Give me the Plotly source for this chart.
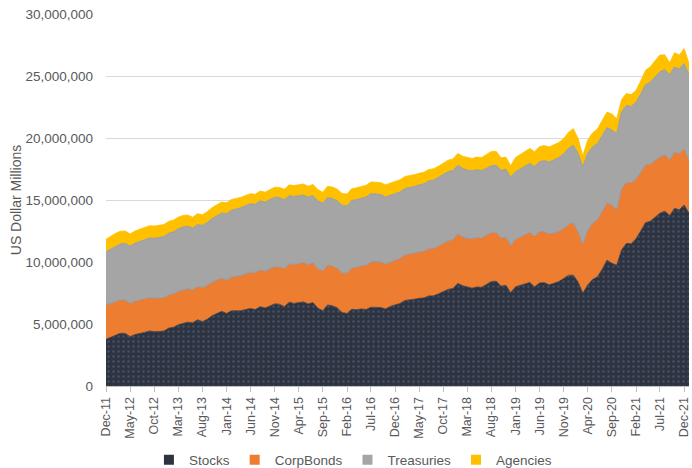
import pandas as pd
import plotly.graph_objects as go

SCALE = 1_000_000  # arrays below are in millions of "US Dollar Millions"

START_MONTH = "2011-12-01"
N_MONTHS = 122  # Dec-11 .. Jan-22

TICK_LABELS = ["Dec-11", "May-12", "Oct-12", "Mar-13", "Aug-13", "Jan-14", "Jun-14",
               "Nov-14", "Apr-15", "Sep-15", "Feb-16", "Jul-16", "Dec-16", "May-17",
               "Oct-17", "Mar-18", "Aug-18", "Jan-19", "Jun-19", "Nov-19", "Apr-20",
               "Sep-20", "Feb-21", "Jul-21", "Dec-21"]

stocks = [
    3.77, 3.95, 4.13, 4.25, 4.24, 3.98, 4.15, 4.22, 4.32, 4.44, 4.38, 4.39,
    4.43, 4.67, 4.74, 4.93, 5.03, 5.15, 5.09, 5.34, 5.19, 5.38, 5.66, 5.85,
    6.02, 5.85, 6.06, 6.07, 6.07, 6.16, 6.25, 6.16, 6.39, 6.29, 6.46, 6.62,
    6.59, 6.40, 6.76, 6.66, 6.72, 6.78, 6.62, 6.73, 6.27, 6.07, 6.53, 6.47,
    6.30, 5.92, 5.85, 6.18, 6.15, 6.21, 6.17, 6.35, 6.34, 6.33, 6.21, 6.42,
    6.54, 6.65, 6.90, 6.92, 6.99, 7.07, 7.10, 7.26, 7.27, 7.43, 7.60, 7.79,
    7.86, 8.27, 8.09, 8.00, 7.89, 7.98, 7.96, 8.19, 8.42, 8.45, 8.05, 8.12,
    7.52, 8.00, 8.13, 8.19, 8.35, 8.00, 8.30, 8.34, 8.16, 8.28, 8.42, 8.67,
    8.92, 8.94, 8.36, 7.47, 8.15, 8.58, 8.80, 9.39, 10.15, 9.89, 9.74, 10.97,
    11.49, 11.48, 11.89, 12.48, 13.17, 13.28, 13.62, 13.93, 14.10, 13.75, 14.32, 14.22,
    14.60, 13.93,
]

corp_bonds = [
    2.76, 2.74, 2.72, 2.70, 2.70, 2.69, 2.70, 2.71, 2.70, 2.70, 2.69, 2.70,
    2.70, 2.69, 2.70, 2.70, 2.72, 2.70, 2.68, 2.70, 2.76, 2.74, 2.72, 2.70,
    2.69, 2.70, 2.74, 2.78, 2.84, 2.90, 2.95, 2.96, 2.98, 2.97, 3.00, 3.01,
    3.02, 3.08, 3.10, 3.14, 3.17, 3.18, 3.18, 3.20, 3.21, 3.22, 3.23, 3.22,
    3.21, 3.22, 3.24, 3.33, 3.42, 3.48, 3.58, 3.66, 3.67, 3.66, 3.64, 3.60,
    3.62, 3.65, 3.68, 3.70, 3.73, 3.76, 3.78, 3.81, 3.84, 3.86, 3.89, 3.93,
    3.96, 4.01, 3.95, 3.91, 4.00, 4.01, 3.99, 3.98, 3.96, 3.95, 3.90, 3.88,
    3.84, 3.83, 3.90, 4.00, 4.05, 4.10, 4.15, 4.12, 4.10, 4.08, 4.05, 4.04,
    4.12, 4.22, 4.10, 3.97, 4.43, 4.55, 4.62, 4.70, 4.62, 4.70, 4.50, 4.97,
    4.95, 4.90, 4.84, 4.75, 4.68, 4.62, 4.58, 4.56, 4.55, 4.50, 4.55, 4.52,
    4.57, 4.30,
]

treasuries = [
    4.30, 4.37, 4.44, 4.50, 4.56, 4.62, 4.66, 4.71, 4.75, 4.80, 4.84, 4.88,
    4.92, 4.96, 5.00, 5.05, 5.08, 5.04, 4.98, 4.98, 5.00, 5.06, 5.12, 5.18,
    5.24, 5.35, 5.38, 5.42, 5.46, 5.49, 5.50, 5.53, 5.56, 5.57, 5.59, 5.60,
    5.58, 5.55, 5.50, 5.48, 5.45, 5.44, 5.43, 5.44, 5.46, 5.45, 5.44, 5.43,
    5.42, 5.44, 5.43, 5.45, 5.47, 5.48, 5.50, 5.51, 5.48, 5.45, 5.40, 5.35,
    5.33, 5.34, 5.35, 5.36, 5.37, 5.38, 5.42, 5.46, 5.50, 5.54, 5.58, 5.57,
    5.55, 5.52, 5.51, 5.50, 5.47, 5.45, 5.42, 5.40, 5.38, 5.40, 5.44, 5.48,
    5.51, 5.45, 5.48, 5.52, 5.56, 5.60, 5.64, 5.72, 5.80, 5.88, 5.95, 6.02,
    6.12, 6.26, 6.28, 6.24, 6.19, 6.15, 6.12, 6.10, 6.06, 6.05, 6.12, 6.17,
    6.18, 6.17, 6.18, 6.30, 6.45, 6.60, 6.75, 6.85, 6.86, 6.87, 6.85, 6.84,
    6.84, 6.85,
]

agencies = [
    1.00, 1.02, 1.03, 1.03, 1.00, 0.97, 0.98, 1.00, 1.00, 0.99, 0.99, 0.98,
    0.97, 0.96, 0.95, 0.93, 0.92, 0.90, 0.86, 0.88, 0.86, 0.88, 0.88, 0.88,
    0.88, 0.88, 0.86, 0.85, 0.84, 0.82, 0.81, 0.81, 0.80, 0.80, 0.80, 0.80,
    0.82, 0.84, 0.86, 0.88, 0.89, 0.89, 0.88, 0.89, 0.90, 0.89, 0.90, 0.92,
    0.94, 0.95, 0.96, 0.95, 0.94, 0.94, 0.94, 0.94, 0.95, 0.96, 0.98, 0.99,
    1.00, 0.99, 0.97, 0.96, 0.95, 0.94, 0.93, 0.92, 0.91, 0.90, 0.90, 0.92,
    0.94, 0.95, 0.98, 1.02, 0.99, 1.02, 1.05, 1.10, 1.16, 1.12, 1.02, 0.98,
    0.90, 1.15, 1.18, 1.20, 1.20, 1.20, 1.21, 1.21, 1.22, 1.22, 1.22, 1.22,
    1.28, 1.34, 1.20, 0.88, 1.07, 1.12, 1.18, 1.22, 1.26, 1.29, 1.20, 1.00,
    0.96, 0.95, 0.94, 1.05, 1.15, 1.25, 1.32, 1.35, 1.20, 0.95, 1.15, 1.12,
    1.20, 0.95,
]

months = pd.date_range(START_MONTH, periods=N_MONTHS, freq="MS")
tick_vals = list(months[::5])

COLORS = {
    "Stocks": "#2E3340",
    "CorpBonds": "#ED7D31",
    "Treasuries": "#A5A5A5",
    "Agencies": "#FFC000",
}

series = [
    ("Stocks", stocks),
    ("CorpBonds", corp_bonds),
    ("Treasuries", treasuries),
    ("Agencies", agencies),
]

fig = go.Figure()
for name, vals in series:
    kw = {}
    if name == "Stocks":
        kw["fillpattern"] = dict(shape=".", fgcolor="#46506A", bgcolor=COLORS[name],
                                 size=5, solidity=0.18, fillmode="replace")
    line_color = "#8796AE" if name in ("CorpBonds", "Treasuries") else COLORS[name]
    fig.add_trace(go.Scatter(
        x=months, y=[v * SCALE for v in vals], name=name,
        mode="lines", stackgroup="one",
        line=dict(color=line_color, width=0.8),
        fillcolor=COLORS[name], showlegend=False,
        hovertemplate="%{x|%b-%y}: %{y:,.0f}<extra>" + name + "</extra>",
        **kw,
    ))

# legend entries with square swatches
for name, _ in series:
    fig.add_trace(go.Scatter(
        x=[None], y=[None], mode="markers", name=name,
        marker=dict(symbol="square", size=10, color=COLORS[name]),
        showlegend=True,
    ))

TEXT = "#595959"
fig.update_layout(
    width=692, height=468,
    margin=dict(l=106, r=3, t=14, b=82, autoexpand=False),
    paper_bgcolor="white", plot_bgcolor="white",
    font=dict(family="Liberation Sans, Arial, sans-serif", size=13, color=TEXT),
    legend=dict(orientation="h", xref="container", yref="container",
                x=0.51, xanchor="center", y=0.017, yanchor="middle",
                font=dict(size=13.5, color=TEXT), itemwidth=30,
                traceorder="normal", tracegroupgap=0),
)
fig.update_xaxes(
    range=[months[0], months[-1]], automargin=False,
    tickmode="array", tickvals=tick_vals, ticktext=TICK_LABELS,
    tickangle=-90, tickfont=dict(size=12.5, color=TEXT),
    ticklabeloverflow="allow",
    showgrid=False, showline=True, linecolor="#BFBFBF", linewidth=1,
    ticks="outside", ticklen=5, tickcolor="#BFBFBF",
)
fig.update_yaxes(
    range=[0, 30_000_000], tickmode="linear", tick0=0, dtick=5_000_000,
    automargin=False,
    tickformat=",d", tickfont=dict(size=13.5, color=TEXT),
    ticklabelstandoff=12,
    showgrid=True, gridcolor="#D9D9D9", gridwidth=1,
    zeroline=False, showline=False, ticks="",
    title=dict(text="US Dollar Millions", font=dict(size=14, color=TEXT), standoff=0),
)

fig.write_html("out.html", config={"displayModeBar": False},
               post_script="document.body.style.margin='0';")
